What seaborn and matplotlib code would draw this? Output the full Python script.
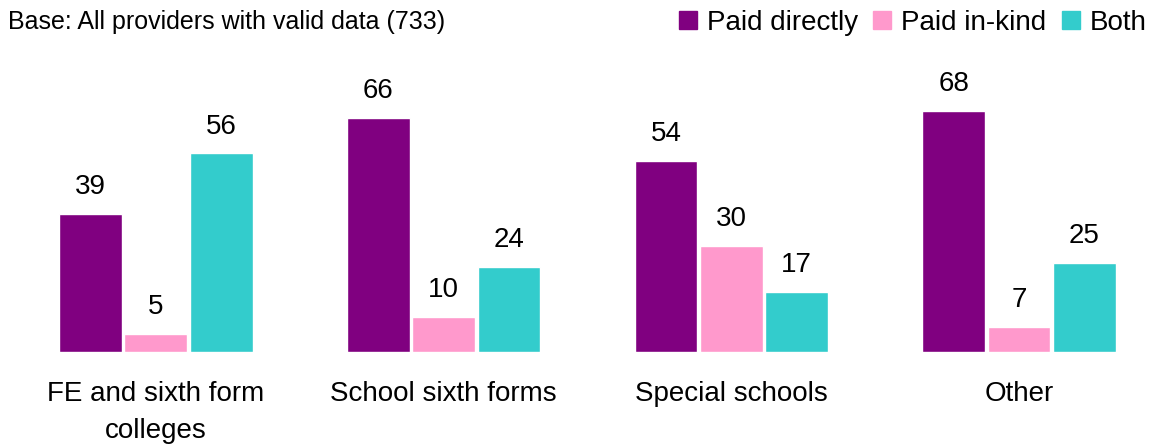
import numpy as np
import pandas as pd
import matplotlib.pyplot as plt
import seaborn as sns

categories = ["FE and sixth form\ncolleges", "School sixth forms", "Special schools", "Other"]
series = ["Paid directly", "Paid in-kind", "Both"]
paid_directly = [39, 66, 54, 68]
paid_in_kind = [5, 10, 30, 7]
both = [56, 24, 17, 25]
colors = ["#800080", "#FF99CC", "#33CCCC"]

df = pd.DataFrame({
    "category": categories * 3,
    "type": [s for s in series for _ in categories],
    "value": paid_directly + paid_in_kind + both,
})

sns.set_theme(style="white")
plt.rcParams["font.family"] = ["Liberation Sans", "DejaVu Sans"]

fig = plt.figure(figsize=(11.54, 4.47), dpi=100)
ax = fig.add_axes([10 / 1154, 95 / 447, 1140 / 1154, 283.6 / 447])

sns.barplot(data=df, x="category", y="value", hue="type", order=categories,
            hue_order=series, palette=colors, width=0.682, gap=0.04,
            saturation=1, ax=ax, legend=False)

for cont in ax.containers:
    ax.bar_label(cont, fmt="%d", padding=10, fontsize=20, color="#000000")

ax.set_xlim(-0.507, 3.455)
ax.set_ylim(0, 80)
ax.set_xlabel("")
ax.set_ylabel("")
ax.set_yticks([])
ax.tick_params(axis="x", length=0, labelsize=20, labelcolor="#000000", pad=21)
for lbl in ax.get_xticklabels():
    lbl.set_linespacing(1.55)
for s in ax.spines.values():
    s.set_visible(False)

fig.text(8 / 1154, 1 - 22 / 447, "Base: All providers with valid data (733)",
         fontsize=18, va="center", ha="left", color="#000000")

handles = [plt.Rectangle((0, 0), 1, 1, color=c) for c in colors]
fig.legend(handles, series, loc="upper right",
           bbox_to_anchor=(1.0 - 2 / 1154, 1.0 - 4 / 447),
           ncol=3, frameon=False, fontsize=20, labelcolor="#000000",
           handlelength=0.65, handleheight=0.65, handletextpad=0.36,
           columnspacing=0.55, borderaxespad=0.0, borderpad=0.2)

fig.savefig("out.png", dpi=100)
